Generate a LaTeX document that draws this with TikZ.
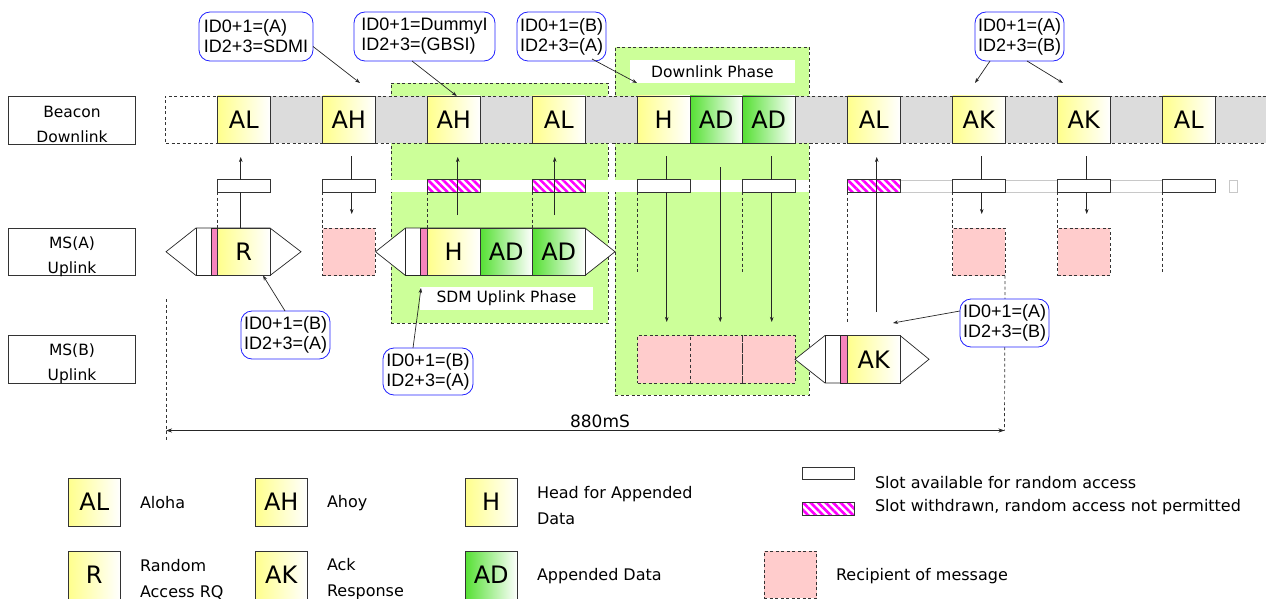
\documentclass[tikz,border=0pt]{standalone}
\usepackage{fontspec}
\setmainfont{DejaVu Sans}
\newfontfamily\arialf{Liberation Sans}
\usetikzlibrary{arrows.meta,patterns.meta,calc}
\definecolor{greyslot}{HTML}{DCDCDC}
\definecolor{phase}{HTML}{CCFF99}
\definecolor{yel}{HTML}{FFFF8C}
\definecolor{grn}{HTML}{55E033}
\definecolor{pinkbox}{HTML}{FFCCCC}
\definecolor{pinkstrip}{HTML}{F784BD}
\definecolor{bluebub}{HTML}{2222FF}
\definecolor{raline}{HTML}{C8C8C8}
\begin{document}
\begin{tikzpicture}[x=1pt,y=-1pt,
 every node/.style={inner sep=0pt, outer sep=0pt},
 ln/.style={draw=black!85, line width=0.7pt},
 dsh/.style={draw=black!80, line width=0.7pt, dash pattern=on 3pt off 2.5pt},
 slotbox/.style={draw=black!80, line width=0.8pt, minimum width=52.5pt, minimum height=47.5pt, anchor=north west, font=\fontsize{24}{28}\selectfont},
 yslot/.style={slotbox, left color=yel, right color=white},
 gslot/.style={slotbox, left color=grn, right color=white},
 raslot/.style={draw=black!80, line width=0.8pt, fill=white, minimum width=52.5pt, minimum height=12.5pt, anchor=north west},
 rahatch/.style={draw=black!80, line width=0.8pt, minimum width=52.5pt, minimum height=12.5pt, anchor=north west, preaction={fill=white}, pattern={Lines[angle=-45,distance=5.3pt,line width=2.6pt]}, pattern color=magenta},
 pinkbx/.style={dsh, fill=pinkbox, minimum width=52.5pt, minimum height=47.5pt, anchor=north west},
 phasebox/.style={dsh, fill=phase, anchor=north west},
 bubble/.style={draw=bluebub, line width=0.8pt, rounded corners=11pt, fill=white, align=left, font=\arialf\fontsize{18}{20}\selectfont, anchor=north west, inner xsep=3pt},
 rowbox/.style={draw=black!80, line width=0.8pt, minimum width=127.5pt, anchor=north west},
 rowtxt/.style={font=\fontsize{15.5}{25}\selectfont, align=center},
 legtxt/.style={font=\fontsize{16}{26}\selectfont, align=left, anchor=west},
 phlabel/.style={fill=white, font=\fontsize{15.5}{18}\selectfont, anchor=north west},
 arr/.style={ln, -{Stealth[length=5pt,width=3.6pt]}},
 arrb/.style={ln, {Stealth[length=6pt,width=4pt]}-{Stealth[length=6pt,width=4pt]}},
]
\useasboundingbox (0,0) rectangle (1266,599);

% ---------- phase areas ----------
\node[phasebox, minimum width=217pt, minimum height=240pt] (sdmph) at (391,83) {};
\node[phasebox, minimum width=194pt, minimum height=348pt] (dlph) at (615,47) {};
\fill[white] (391,180) rectangle (809,192);
\node[phlabel, minimum width=165pt, minimum height=23pt] (dllab) at (630,60) {Downlink Phase};
\node[phlabel, minimum width=173pt, minimum height=23pt] (sdmlab) at (420,287) {SDM Uplink Phase};

% random access band (right part)
\draw[raline, line width=0.8pt] (847.5,180) rectangle (1215,192);
\draw[raline, line width=0.8pt] (1229,180) rectangle (1237,192);

% ---------- beacon downlink row ----------
\fill[greyslot] (217.5,96) rectangle (1266,143.5);
\draw[dsh] (1266,96) -- (165,96) -- (165,143.5) -- (1266,143.5);
\foreach \xx in {217.5,270,375,480,585,795,900,1005,1110,1215}
  \draw[dsh] (\xx,96) -- (\xx,143.5);
\node[yslot] (b1)  at (217.5,96) {AL};
\node[yslot] (b3)  at (322.5,96) {AH};
\node[yslot] (b5)  at (427.5,96) {AH};
\node[yslot] (b7)  at (532.5,96) {AL};
\node[yslot] (b9)  at (637.5,96) {H};
\node[gslot] (b10) at (690,96) {AD};
\node[gslot] (b11) at (742.5,96) {AD};
\node[yslot] (b13) at (847.5,96) {AL};
\node[yslot] (b15) at (952.5,96) {AK};
\node[yslot] (b17) at (1057.5,96) {AK};
\node[yslot] (b19) at (1162.5,96) {AL};

% ---------- random access slots ----------
\node[raslot] (r1)  at (217.5,179.5) {};
\node[raslot] (r3)  at (322.5,179.5) {};
\node[rahatch] (r5) at (427.5,179.5) {};
\node[rahatch] (r7) at (532.5,179.5) {};
\node[raslot] (r9)  at (637.5,179.5) {};
\node[raslot] (r11) at (742.5,179.5) {};
\node[rahatch] (r13) at (847.5,179.5) {};
\node[raslot] (r15) at (952.5,179.5) {};
\node[raslot] (r17) at (1057.5,179.5) {};
\node[raslot] (r19) at (1162.5,179.5) {};

% ---------- recipient boxes ----------
\node[pinkbx] (pA3)  at (322.5,228) {};
\node[pinkbx] (pA15) at (952.5,228) {};
\node[pinkbx] (pA17) at (1057.5,228) {};
\node[pinkbx] (pB9)  at (637.5,335.5) {};
\node[pinkbx] (pB10) at (690,335.5) {};
\node[pinkbx] (pB11) at (742.5,335.5) {};

% ---------- uplink bursts ----------
% MS(A) random access request
\draw[ln, fill=white] (166,251.75) -- (196,228) -- (270,228) -- (301,251.75) -- (270,275.5) -- (196,275.5) -- cycle;
\draw[ln] (196,228) -- (196,275.5);
\draw[ln, fill=pinkstrip] (211,228) rectangle (217.5,275.5);
\node[yslot] (uR) at (217.5,228) {R};
% MS(A) SDM uplink
\draw[ln, fill=white] (375.5,251.75) -- (405.5,228) -- (585,228) -- (615,251.75) -- (585,275.5) -- (405.5,275.5) -- cycle;
\draw[ln] (405.5,228) -- (405.5,275.5);
\draw[ln, fill=pinkstrip] (420.5,228) rectangle (427.5,275.5);
\node[yslot] (uH) at (427.5,228) {H};
\node[gslot] (uAD1) at (480,228) {AD};
\node[gslot] (uAD2) at (532.5,228) {AD};
% MS(B) ack
\draw[ln, fill=white] (795,359.25) -- (825,335.5) -- (900,335.5) -- (929,359.25) -- (900,383) -- (825,383) -- cycle;
\draw[ln] (825,335.5) -- (825,383);
\draw[ln, fill=pinkstrip] (840,335.5) rectangle (847.5,383);
\node[yslot, minimum height=47.5pt] (uAK) at (847.5,335.5) {AK};

% ---------- dashed slot edges ----------
\draw[dsh] (r1.south west) -- (uR.north west);
\draw[dsh] (r3.south west) -- (pA3.north west);
\draw[dsh] (r5.south west) -- (uH.north west);
\draw[dsh] (r7.south west) -- (uAD2.north west);
\draw[dsh] (r9.south west) -- ++(0,81);
\draw[dsh] (r11.south west) -- ++(0,81);
\draw[dsh] (r13.south west) -- ++(0,131);
\draw[dsh] (r15.south west) -- (pA15.north west);
\draw[dsh] (r17.south west) -- (pA17.north west);
\draw[dsh] (r19.south west) -- ++(0,81);

% ---------- vertical connectors ----------
\draw[ln] ([xshift=-3pt]uR.north) -- ([xshift=-3pt]r1.south);
\draw[arr, shorten >=13.5pt] ([xshift=-3pt]r1.north) -- ([xshift=-3pt]b1.south);
\draw[ln, shorten >=12pt] ([xshift=3pt]r3.north) -- ([xshift=3pt]b3.south);
\draw[arr, shorten >=14pt] ([xshift=3pt]r3.south) -- ([xshift=3pt]pA3.north);
\draw[arr, shorten <=13pt, shorten >=13.5pt] ([xshift=4pt]uH.north) -- ([xshift=4pt]b5.south);
\draw[arr, shorten <=13pt, shorten >=13.5pt] ([xshift=-4pt]uAD2.north) -- ([xshift=-4pt]b7.south);
\draw[ln, shorten >=12pt] ([xshift=3pt]r9.north) -- ([xshift=3pt]b9.south);
\draw[arr, shorten >=13.5pt] ([xshift=3pt]r9.south) -- ([xshift=3pt]pB9.north);
\draw[arr, shorten <=23.5pt, shorten >=13.5pt] ([xshift=4pt]b10.south) -- ([xshift=4pt]pB10.north);
\draw[ln, shorten >=12pt] ([xshift=3pt]r11.north) -- ([xshift=3pt]b11.south);
\draw[arr, shorten >=13.5pt] ([xshift=3pt]r11.south) -- ([xshift=3pt]pB11.north);
\draw[arr, shorten <=23.5pt, shorten >=13.5pt] ([xshift=3pt]uAK.north) -- ([xshift=3pt]b13.south);
\draw[ln, shorten >=12pt] ([xshift=3pt]r15.north) -- ([xshift=3pt]b15.south);
\draw[arr, shorten >=14pt] ([xshift=3pt]r15.south) -- ([xshift=3pt]pA15.north);
\draw[ln, shorten >=12pt] ([xshift=3pt]r17.north) -- ([xshift=3pt]b17.south);
\draw[arr, shorten >=14pt] ([xshift=3pt]r17.south) -- ([xshift=3pt]pA17.north);

% ---------- 880 ms span ----------
\coordinate (m0top) at (166,299);
\coordinate (m0) at (166,430.5);
\coordinate (m0bot) at (166,440);
\coordinate (m1) at (1004.5,430.5);
\draw[dsh] (m0top) -- (m0bot);
\draw[dsh] (pA15.south east) -- (m1);
\draw[arrb] (m0) -- (m1);
\node[font=\fontsize{17}{20}\selectfont] (span) at (600,421) {880mS};

% ---------- row labels ----------
\node[rowbox, minimum height=48pt] (lbB) at (8,96) {};
\node[rowtxt] (lbBt) at (72,124) {Beacon\\Downlink};
\node[rowbox, minimum height=47.5pt] (lbA) at (8,228) {};
\node[rowtxt] (lbAt) at (72,256.5) {MS(A)\\Uplink};
\node[rowbox, minimum height=47.5pt] (lbMB) at (8,335.5) {};
\node[rowtxt] (lbMBt) at (72,364) {MS(B)\\Uplink};

% ---------- callouts ----------
\node[bubble, minimum width=114pt, minimum height=49pt] (c1) at (199,12) {ID0+1=(A)\\ID2+3=SDMI};
\node[bubble, minimum width=141pt, minimum height=49pt] (c2) at (354,12) {ID0+1=DummyI\\ID2+3=(GBSI)};
\node[bubble, minimum width=89pt, minimum height=49pt] (c3) at (517,12) {ID0+1=(B)\\ID2+3=(A)};
\node[bubble, minimum width=89pt, minimum height=49pt] (c4) at (975,12) {ID0+1=(A)\\ID2+3=(B)};
\node[bubble, minimum width=89pt, minimum height=48pt] (c5) at (241,311) {ID0+1=(B)\\ID2+3=(A)};
\node[bubble, minimum width=90pt, minimum height=47pt] (c6) at (383,348) {ID0+1=(B)\\ID2+3=(A)};
\node[bubble, minimum width=89pt, minimum height=48pt] (c7) at (960,299) {ID0+1=(A)\\ID2+3=(B)};

\coordinate (t1) at (360,83);
\coordinate (t3) at (637,83);
\coordinate (t4a) at (975,83);
\coordinate (t4b) at (1063,83);
\coordinate (t6) at (421,288);
\coordinate (t7) at (893,323);
\draw[arr] ($(c1.east)+(0,10)$) -- (t1);
\draw[arr] ($(c2.south)+(-12.5,0)$) -- ([xshift=3pt]b5.north);
\draw[arr] ($(c3.south east)+(-14,-2)$) -- (t3);
\draw[arr] ($(c4.south)+(-29.5,0)$) -- (t4a);
\draw[arr] ($(c4.south)+(7.5,0)$) -- (t4b);
\draw[arr] ($(c5.north)+(-0.5,0)$) -- ([xshift=-7pt]uR.south east);
\draw[arr] ($(c6.north)+(-15,0)$) -- (t6);
\draw[arr] ($(c7.west)+(0,-12)$) -- (t7);

% ---------- legend ----------
\node[yslot, minimum height=48pt] (kAL) at (68,478) {AL};
\node[legtxt] (kALt) at (140,503) {Aloha};
\node[yslot, minimum height=48pt] (kAH) at (255,478) {AH};
\node[legtxt] (kAHt) at (327,503) {Ahoy};
\node[yslot, minimum height=48pt] (kH) at (465,478) {H};
\node[legtxt] (kHt) at (537,506) {Head for Appended\\Data};
\node[yslot, minimum height=48pt] (kR) at (68,551) {R};
\node[legtxt] (kRt) at (140,579) {Random\\Access RQ};
\node[yslot, minimum height=48pt] (kAK) at (255,551) {AK};
\node[legtxt] (kAKt) at (327,579) {Ack\\Response};
\node[gslot, minimum height=48pt] (kAD) at (465,551) {AD};
\node[legtxt] (kADt) at (537,576) {Appended Data};
\node[raslot] (kRA) at (802,467) {};
\node[legtxt] (kRAt) at (875,483) {Slot available for random access};
\node[rahatch] (kRH) at (802,502.5) {};
\node[legtxt] (kRHt) at (875,507) {Slot withdrawn, random access not permitted};
\node[pinkbx, minimum height=47pt] (kP) at (764,551) {};
\node[legtxt] (kPt) at (836,576) {Recipient of message};
\end{tikzpicture}
\end{document}
